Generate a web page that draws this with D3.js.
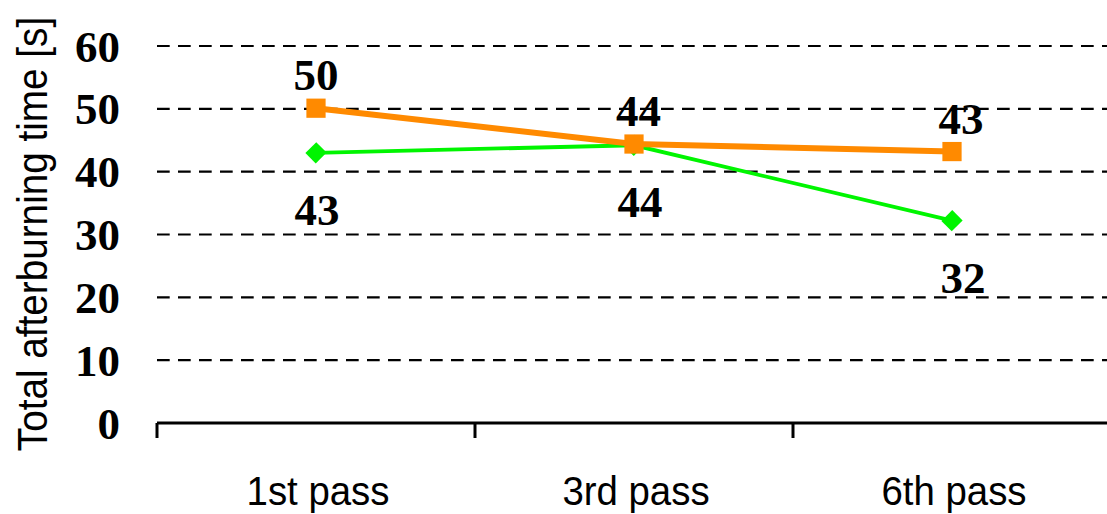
<!DOCTYPE html>
<html>
<head>
<meta charset="utf-8">
<script src="https://cdn.jsdelivr.net/npm/d3@7/dist/d3.min.js"></script>
<style>
  html, body { margin: 0; padding: 0; background: #fff; }
  svg { display: block; }
</style>
</head>
<body>
<svg id="chart" width="1107" height="514"></svg>
<script>
// Afterburning time per pass
const passes = ["1st pass", "3rd pass", "6th pass"];
const seriesOrange = [50.1, 44.4, 43.2];
const seriesGreen = [43.0, 44.2, 32.2];
const labelsOrange = ["50", "44", "43"];
const labelsGreen = ["43", "44", "32"];
const yTicks = [0, 10, 20, 30, 40, 50, 60];
const yTitle = "Total afterburning time [s]";

const svg = d3.select("#chart");
const W = 1107;
const plotLeft = 157, plotRight = 1111, plotTop = 46, plotBottom = 423;

const x = d3.scaleBand().domain(passes).range([plotLeft, plotRight]);
const y = d3.scaleLinear().domain([0, 60]).range([plotBottom, plotTop]);
const cx = d => x(d) + x.bandwidth() / 2;

// dashed horizontal gridlines
svg.append("g")
  .selectAll("line")
  .data(yTicks.filter(t => t > 0))
  .join("line")
  .attr("x1", plotLeft).attr("x2", W)
  .attr("y1", d => y(d)).attr("y2", d => y(d))
  .attr("stroke", "#000")
  .attr("stroke-width", 2.2)
  .attr("stroke-dasharray", "12.7 8.3");

// y tick labels
const yAxis = d3.axisLeft(y).tickValues(yTicks).tickSize(0).tickPadding(0);
const gy = svg.append("g").attr("transform", "translate(120,0)").call(yAxis);
gy.select(".domain").remove();
gy.selectAll("text")
  .attr("dy", null)
  .attr("y", 15)
  .attr("x", 0)
  .attr("fill", "#000")
  .style("font-family", "'Liberation Serif', 'Times New Roman', serif")
  .style("font-weight", "bold")
  .style("font-size", "45px");

// x axis baseline with ticks at category boundaries
svg.append("line")
  .attr("x1", plotLeft).attr("x2", W)
  .attr("y1", y(0)).attr("y2", y(0))
  .attr("stroke", "#000").attr("stroke-width", 3);
svg.append("g")
  .selectAll("line")
  .data(passes)
  .join("line")
  .attr("x1", d => x(d)).attr("x2", d => x(d))
  .attr("y1", y(0)).attr("y2", y(0) + 15)
  .attr("stroke", "#000").attr("stroke-width", 3);

// category labels
svg.append("g")
  .selectAll("text")
  .data(passes)
  .join("text")
  .attr("transform", d => `translate(${cx(d) + 2},505) scale(0.96,1)`)
  .attr("text-anchor", "middle")
  .style("font-family", "'Liberation Sans', Arial, sans-serif")
  .style("font-size", "40px")
  .text(d => d);

// y axis title
svg.append("text")
  .attr("transform", `translate(47,${(453 + 15) / 2}) rotate(-90) scale(0.9,1)`)
  .attr("text-anchor", "middle")
  .style("font-family", "'Liberation Sans', Arial, sans-serif")
  .style("font-size", "43px")
  .text(yTitle);

const line = d3.line().x((d, i) => cx(passes[i])).y(d => y(d));

// green series with diamond markers
svg.append("path")
  .datum(seriesGreen)
  .attr("d", line)
  .attr("fill", "none")
  .attr("stroke", "#00f500")
  .attr("stroke-width", 3.8);
svg.append("g")
  .selectAll("path")
  .data(seriesGreen)
  .join("path")
  .attr("d", d3.symbol(d3.symbolSquare, 215))
  .attr("transform", (d, i) => `translate(${cx(passes[i])},${y(d)}) rotate(45) scale(1,1.05)`)
  .attr("fill", "#00f500");

// orange series with square markers
svg.append("path")
  .datum(seriesOrange)
  .attr("d", line)
  .attr("fill", "none")
  .attr("stroke", "#ff8a00")
  .attr("stroke-width", 6);
svg.append("g")
  .selectAll("path")
  .data(seriesOrange)
  .join("path")
  .attr("d", d3.symbol(d3.symbolSquare, 370))
  .attr("transform", (d, i) => `translate(${cx(passes[i])},${y(d)})`)
  .attr("fill", "#ff8a00");

// value labels
const labelFont = sel => sel
  .attr("text-anchor", "middle")
  .style("font-family", "'Liberation Serif', 'Times New Roman', serif")
  .style("font-weight", "bold")
  .style("font-size", "45px");

svg.append("g")
  .selectAll("text")
  .data(seriesOrange)
  .join("text")
  .attr("x", (d, i) => cx(passes[i]) + i * 4.5)
  .attr("y", d => y(d) - 18)
  .call(labelFont)
  .text((d, i) => labelsOrange[i]);

svg.append("g")
  .selectAll("text")
  .data(seriesGreen)
  .join("text")
  .attr("x", (d, i) => cx(passes[i]) + 1 + i * 5)
  .attr("y", d => y(d) + 72)
  .call(labelFont)
  .text((d, i) => labelsGreen[i]);
</script>
</body>
</html>
